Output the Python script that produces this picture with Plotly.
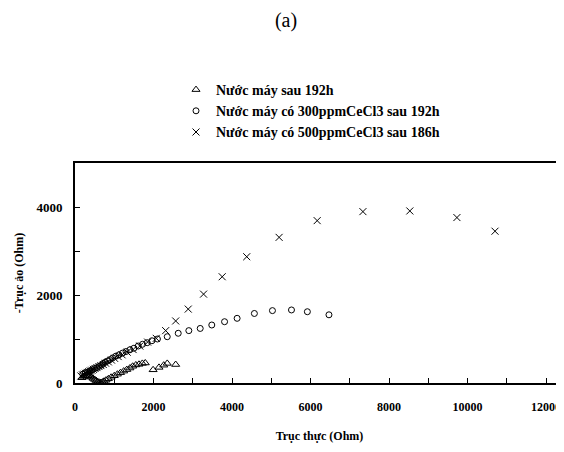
import plotly.graph_objects as go

# Series 1: Nước máy sau 192h (triangles)
tri_x = [180, 220, 260, 300, 340, 380, 420, 460, 500, 540, 580, 620, 660, 700, 740, 790, 850, 920,
         1000, 1080, 1160, 1240, 1320, 1400, 1470, 1550, 1630, 1715, 1790, 1990, 2140, 2260, 2350, 2565]
tri_y = [120, 150, 165, 170, 165, 150, 130, 105, 80, 55, 30, 15, 10, 20, 40, 65, 95, 130,
         165, 200, 235, 270, 305, 340, 380, 410, 425, 445, 455, 300, 355, 405, 445, 420]

# Series 2: Nước máy có 300ppmCeCl3 sau 192h (circles)
cir_x = [200, 260, 320, 380, 440, 500, 560, 620, 680, 720, 770, 830, 890, 960, 1040, 1120, 1210,
         1300, 1400, 1500, 1610, 1720, 1840, 1960, 2100, 2350, 2630, 2900, 3190, 3485, 3810, 4130,
         4570, 5030, 5515, 5920, 6470]
cir_y = [200, 230, 250, 270, 300, 330, 350, 380, 410, 446, 470, 500, 530, 570, 610, 640, 680,
         715, 755, 790, 840, 880, 916, 960, 1000, 1052, 1130, 1190, 1240, 1318, 1393, 1470,
         1580, 1645, 1660, 1620, 1550]

# Series 3: Nước máy có 500ppmCeCl3 sau 186h (crosses)
crs_x = [150, 190, 230, 270, 310, 350, 390, 430, 470, 510, 560, 610, 660, 720, 780, 850, 930, 1010,
         1100, 1200, 1330, 1480, 1650, 1850, 2070, 2310, 2565, 2885, 3275, 3750, 4375, 5200, 6170,
         7335, 8530, 9730, 10700]
crs_y = [160, 185, 200, 220, 240, 255, 275, 290, 310, 330, 350, 375, 395, 420, 450, 480, 520, 560,
         600, 640, 700, 760, 840, 930, 1015, 1190, 1410, 1680, 2020, 2415, 2870, 3310, 3690,
         3895, 3910, 3760, 3450]

names = ["Nước máy sau 192h",
         "Nước máy có 300ppmCeCl3 sau 192h",
         "Nước máy có 500ppmCeCl3 sau 186h"]

FONT = "Liberation Serif"

fig = go.Figure()
fig.add_trace(go.Scatter(x=tri_x, y=tri_y, mode="markers", name=names[0],
                         marker=dict(symbol="triangle-up-open", size=7, color="black",
                                     line=dict(width=1, color="black"))))
fig.add_trace(go.Scatter(x=cir_x, y=cir_y, mode="markers", name=names[1],
                         marker=dict(symbol="circle-open", size=6, color="black",
                                     line=dict(width=1, color="black"))))
fig.add_trace(go.Scatter(x=crs_x, y=crs_y, mode="markers", name=names[2],
                         marker=dict(symbol="x-thin-open", size=7, color="black",
                                     line=dict(width=1, color="black"))))

# page body adds an 8px offset; the figure is sized so it fills the window from there
W, H = 556, 444
L, T, B = 67, 155, 69
PH = H - T - B  # plot height in px

fig.update_layout(
    width=W, height=H,
    margin=dict(l=L, r=0, t=T, b=B),
    paper_bgcolor="white", plot_bgcolor="white",
    font=dict(family=FONT, color="black", size=12),
    title=dict(text="(a)", x=0.5, xanchor="center", y=1 - 12 / H, yanchor="middle",
               font=dict(family=FONT, size=20, color="black")),
    showlegend=True,
    legend=dict(x=(168 - L) / (W - L), xanchor="left", y=(H - B - 66) / PH, yanchor="top",
                bgcolor="rgba(0,0,0,0)", font=dict(family=FONT, size=14, weight="bold"),
                itemwidth=30, tracegroupgap=0),
    xaxis=dict(range=[0, 12458], dtick=2000, tick0=0, showgrid=False, zeroline=False,
               automargin=False, tickformat="d",
               showline=True, linecolor="black", linewidth=2, mirror=True,
               ticks="inside", ticklen=5, tickcolor="black", tickwidth=1,
               minor=dict(dtick=1000, ticks="inside", ticklen=5, tickcolor="black"),
               tickfont=dict(family=FONT, size=12, weight="bold"),
               ticklabelstandoff=12,
               title=dict(text="Trục thực (Ohm)", standoff=18,
                          font=dict(family=FONT, size=12, weight="bold"))),
    yaxis=dict(range=[0, 5000], dtick=2000, tick0=0, showgrid=False, zeroline=False,
               automargin=False, tickformat="d",
               showline=True, linecolor="black", linewidth=2, mirror=False,
               ticks="inside", ticklen=5, tickcolor="black", tickwidth=1,
               minor=dict(dtick=1000, ticks="inside", ticklen=5, tickcolor="black"),
               tickfont=dict(family=FONT, size=13, weight="bold"),
               ticklabelstandoff=8,
               title=dict(text="-Trục ảo (Ohm)", standoff=10,
                          font=dict(family=FONT, size=12, weight="bold"))),
)

fig.write_html("out.html")
